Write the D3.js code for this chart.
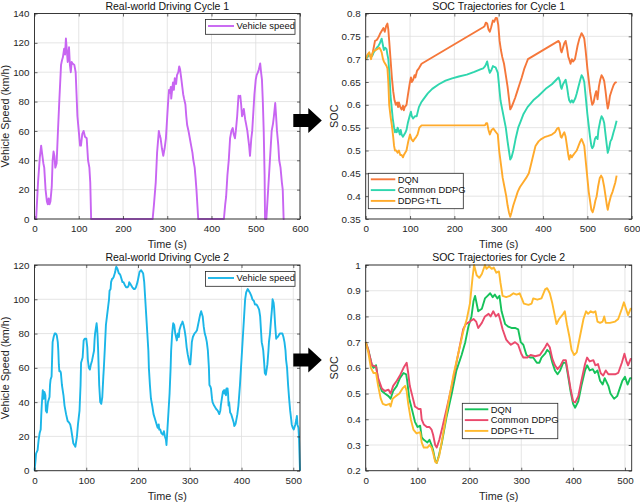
<!DOCTYPE html>
<html>
<head>
<meta charset="utf-8">
<script src="https://cdn.jsdelivr.net/npm/d3@7"></script>
<style>
  body { margin: 0; background: #fff; }
  svg { display: block; font-family: "Liberation Sans", Arial, sans-serif; }
</style>
</head>
<body>
<svg id="chart" width="640" height="503"></svg>
<script>
// ---- data ([time s, value]) ----
const cycle1Speed = [[0,0],[3.7,0],[8,25],[12,42],[15,50],[17,45],[20,38],[22,35],[25,20],[28,12],[30,10],[32,14],[34,10],[36,12],[39,22],[41,40],[43,46],[45,43],[47,35],[50,38],[53,60],[56,80],[60,105],[62,108],[64,110],[67,116],[69,112],[71,123],[73,115],[75,107],[77,113],[78,117],[80,105],[82,100],[84,107],[86,106],[90,105],[93,100],[95,85],[97,70],[100,60],[103,50],[105,50],[108,58],[111,60],[114,56],[118,55],[120,45],[121,40],[124,35],[126,25],[128,0],[267,0],[270,10],[274,25],[277,45],[281,60],[283,57],[285,55],[288,48],[291,43],[294,48],[297,55],[300,70],[302,80],[304,88],[306,86],[308,90],[309,82],[311,88],[313,93],[315,88],[317,96],[320,92],[322,98],[325,100],[327,104],[329,102],[332,95],[334,90],[336,85],[338,82],[341,78],[343,70],[345,64],[348,60],[351,55],[354,50],[357,45],[359,40],[362,35],[364,28],[366,20],[370,0],[428,0],[431,10],[433,15],[436,30],[439,40],[442,55],[445,60],[448,62],[450,58],[453,55],[455,60],[458,70],[461,84],[463,83],[465,84],[467,78],[469,70],[471,72],[473,75],[476,68],[478,65],[481,60],[483,55],[485,50],[487,43],[490,55],[492,60],[495,75],[497,85],[500,95],[502,98],[505,100],[507,102],[510,106],[512,100],[514,95],[516,80],[518,60],[520,30],[521,0],[524,0],[527,15],[530,30],[533,45],[536,60],[539,65],[541,70],[544,79],[546,70],[548,60],[551,50],[553,40],[556,35],[559,25],[561,20],[563,0],[565,0]];

const soc1DQN = [[0,0.70],[4,0.705],[8,0.71],[12,0.705],[15,0.71],[18,0.725],[21,0.74],[25,0.742],[27,0.745],[30,0.75],[32,0.755],[35,0.76],[38,0.765],[40,0.768],[43,0.76],[46,0.772],[49,0.778],[51,0.765],[53,0.74],[56,0.70],[59,0.66],[62,0.63],[65,0.61],[68,0.60],[71,0.605],[73,0.595],[75,0.605],[78,0.595],[81,0.59],[84,0.598],[86,0.588],[88,0.595],[92,0.60],[95,0.62],[99,0.645],[102,0.66],[104,0.65],[107,0.655],[110,0.665],[112,0.66],[116,0.675],[120,0.68],[126,0.69],[265,0.77],[268,0.772],[271,0.78],[274,0.778],[277,0.765],[280,0.76],[283,0.77],[287,0.785],[290,0.782],[293,0.79],[296,0.79],[299,0.775],[302,0.74],[305,0.72],[308,0.705],[312,0.69],[316,0.665],[320,0.64],[323,0.615],[326,0.59],[329,0.595],[331,0.6],[333,0.605],[337,0.615],[342,0.63],[347,0.645],[352,0.66],[358,0.68],[362,0.69],[366,0.70],[435,0.74],[438,0.735],[440,0.72],[442,0.715],[445,0.725],[448,0.735],[451,0.74],[454,0.725],[457,0.705],[459,0.70],[462,0.69],[465,0.70],[468,0.695],[472,0.70],[475,0.715],[478,0.73],[482,0.745],[485,0.752],[487,0.757],[490,0.752],[493,0.745],[496,0.72],[498,0.70],[500,0.68],[503,0.655],[506,0.63],[509,0.61],[511,0.60],[514,0.605],[517,0.62],[520,0.63],[523,0.612],[526,0.64],[529,0.655],[532,0.665],[535,0.66],[538,0.652],[541,0.63],[544,0.605],[546,0.592],[548,0.6],[551,0.62],[555,0.632],[559,0.643],[562,0.648],[566,0.65]];

const soc1DDPG = [[0,0.70],[4,0.705],[8,0.712],[12,0.705],[15,0.708],[18,0.715],[22,0.72],[25,0.725],[28,0.728],[32,0.735],[36,0.745],[39,0.73],[41,0.72],[44,0.725],[47,0.722],[49,0.71],[51,0.70],[54,0.66],[56,0.62],[59,0.59],[61,0.57],[64,0.55],[66,0.54],[68,0.545],[70,0.54],[72,0.55],[74,0.545],[77,0.535],[79,0.545],[81,0.535],[84,0.53],[87,0.535],[90,0.54],[92,0.545],[95,0.56],[99,0.575],[102,0.585],[104,0.575],[107,0.57],[111,0.575],[115,0.575],[120,0.595],[125,0.605],[130,0.612],[140,0.625],[150,0.635],[165,0.645],[180,0.653],[195,0.658],[210,0.662],[228,0.666],[245,0.672],[260,0.678],[265,0.68],[268,0.683],[271,0.688],[274,0.695],[277,0.68],[280,0.67],[283,0.675],[287,0.685],[290,0.683],[293,0.682],[296,0.675],[298,0.67],[301,0.64],[304,0.61],[306,0.60],[310,0.58],[313,0.565],[316,0.55],[320,0.52],[323,0.50],[326,0.48],[329,0.485],[333,0.50],[338,0.525],[344,0.55],[350,0.565],[356,0.58],[365,0.595],[378,0.61],[390,0.62],[406,0.635],[420,0.645],[430,0.655],[435,0.66],[438,0.652],[440,0.64],[442,0.635],[445,0.645],[448,0.65],[451,0.655],[454,0.64],[457,0.62],[459,0.61],[462,0.605],[465,0.61],[468,0.605],[473,0.615],[476,0.625],[480,0.64],[484,0.655],[487,0.665],[490,0.66],[493,0.65],[496,0.62],[500,0.58],[503,0.555],[506,0.53],[509,0.51],[511,0.505],[514,0.51],[517,0.525],[520,0.53],[523,0.525],[525,0.545],[529,0.565],[532,0.575],[535,0.57],[538,0.56],[541,0.535],[544,0.51],[546,0.495],[549,0.505],[552,0.52],[555,0.525],[559,0.54],[562,0.55],[566,0.565]];

const soc1TL = [[0,0.70],[4,0.71],[8,0.715],[12,0.70],[15,0.712],[18,0.718],[22,0.72],[26,0.722],[31,0.725],[34,0.72],[36,0.715],[39,0.70],[41,0.695],[44,0.69],[47,0.685],[49,0.68],[51,0.65],[53,0.60],[56,0.575],[59,0.555],[62,0.53],[64,0.51],[66,0.50],[69,0.50],[72,0.495],[75,0.50],[78,0.49],[81,0.49],[84,0.485],[86,0.49],[89,0.495],[92,0.50],[96,0.52],[100,0.535],[103,0.525],[107,0.52],[110,0.525],[114,0.53],[117,0.535],[121,0.55],[126,0.555],[269,0.555],[272,0.56],[274,0.56],[277,0.545],[280,0.535],[284,0.545],[288,0.548],[290,0.545],[294,0.54],[298,0.535],[301,0.50],[305,0.47],[309,0.44],[313,0.42],[317,0.40],[320,0.38],[323,0.365],[326,0.355],[329,0.365],[333,0.38],[338,0.395],[343,0.41],[348,0.42],[355,0.43],[362,0.44],[368,0.45],[373,0.47],[378,0.49],[383,0.51],[390,0.52],[396,0.525],[405,0.53],[412,0.532],[420,0.535],[427,0.54],[432,0.548],[435,0.55],[438,0.54],[440,0.53],[442,0.528],[445,0.535],[448,0.54],[451,0.53],[454,0.51],[457,0.49],[459,0.48],[462,0.49],[465,0.485],[468,0.49],[472,0.495],[476,0.50],[480,0.51],[484,0.52],[487,0.525],[490,0.518],[493,0.51],[496,0.48],[500,0.44],[503,0.41],[506,0.39],[509,0.37],[512,0.365],[515,0.375],[518,0.39],[521,0.40],[524,0.42],[528,0.44],[531,0.445],[534,0.44],[538,0.42],[541,0.40],[544,0.38],[546,0.37],[549,0.385],[553,0.40],[557,0.41],[560,0.42],[563,0.43],[566,0.445]];

const cycle2Speed = [[0,0],[2,6],[3,10],[6,12],[8,18],[10,22],[12,24],[13,32],[14,38],[16,47],[17,45],[18,42],[19,46],[21,44],[22,35],[24,34],[26,40],[28,42],[29,43],[30,50],[31,53],[33,55],[34,65],[35,75],[37,78],[39,80],[41,80],[43,79],[45,75],[46,70],[47,62],[48,58],[50,58],[51,57],[53,50],[56,44],[58,38],[61,33],[64,29],[67,28],[69,27],[71,24],[72,22],[74,18],[75,16],[77,15],[79,14],[80,16],[82,20],[84,27],[87,35],[89,50],[90,63],[92,65],[93,66],[95,76],[97,77],[100,77],[102,72],[103,65],[105,60],[107,59],[109,62],[111,64],[113,67],[115,70],[116,76],[117,80],[118,82],[120,86],[121,83],[122,78],[123,70],[124,60],[125,50],[127,40],[129,39],[131,43],[133,55],[134,60],[136,72],[138,85],[140,90],[142,95],[144,100],[145,105],[147,106],[148,110],[150,112],[151,112],[153,113],[155,115],[156,116],[157,118],[158,119],[160,118],[161,117],[163,115],[164,115],[166,114],[167,113],[170,110],[172,110],[175,108],[177,107],[180,107],[182,108],[183,110],[185,109],[187,108],[189,107],[192,106],[194,106],[196,107],[199,110],[201,113],[203,116],[206,117],[208,116],[210,115],[212,110],[214,100],[216,90],[218,80],[220,70],[221,60],[223,50],[225,42],[228,37],[230,33],[233,30],[235,28],[237,26],[238,25],[240,27],[241,24],[243,24],[245,22],[248,21],[250,23],[252,20],[254,18],[255,15],[257,25],[259,35],[261,45],[263,60],[264,70],[266,80],[267,83],[268,86],[270,85],[272,80],[275,76],[277,80],[279,78],[280,82],[282,84],[283,85],[285,86],[286,87],[288,85],[290,82],[292,78],[294,72],[296,68],[298,65],[300,62],[301,62],[303,70],[304,75],[306,78],[309,80],[312,81],[314,82],[316,85],[318,88],[320,91],[322,93],[324,91],[325,90],[327,84],[329,80],[331,78],[333,75],[335,70],[337,60],[338,50],[340,49],[341,48],[343,42],[344,40],[347,38],[349,37],[351,36],[354,35],[357,33],[359,35],[360,38],[362,42],[364,46],[366,47],[367,45],[368,47],[370,44],[371,48],[372,46],[373,48],[374,45],[375,38],[376,40],[378,34],[380,33],[383,30],[385,28],[386,26],[388,27],[389,28],[392,33],[394,38],[397,50],[399,60],[401,70],[403,80],[405,90],[407,100],[409,104],[412,106],[414,105],[416,104],[419,102],[421,100],[424,99],[426,97],[429,97],[431,96],[434,94],[436,90],[438,80],[439,75],[441,72],[442,70],[444,62],[445,57],[447,56],[448,58],[450,62],[452,70],[453,75],[455,80],[457,88],[459,95],[460,100],[462,98],[463,95],[465,85],[467,77],[469,78],[470,78],[472,79],[474,80],[477,80],[479,80],[481,78],[483,75],[485,70],[486,65],[488,60],[490,50],[492,42],[494,35],[496,30],[497,27],[499,25],[501,24],[503,26],[504,27],[506,30],[507,32],[508,27],[510,25],[511,20],[512,10],[513,0]];

const soc2DQN = [[0,0.70],[5,0.67],[12,0.61],[15,0.60],[20,0.61],[24,0.55],[31,0.51],[37,0.50],[44,0.49],[48,0.48],[53,0.51],[60,0.53],[66,0.56],[73,0.58],[78,0.575],[80,0.55],[84,0.48],[89,0.44],[95,0.39],[100,0.37],[105,0.375],[108,0.33],[112,0.32],[119,0.31],[123,0.32],[127,0.30],[130,0.28],[134,0.24],[137,0.23],[140,0.25],[147,0.31],[156,0.41],[166,0.50],[175,0.59],[185,0.65],[192,0.70],[198,0.76],[204,0.80],[208,0.86],[211,0.88],[217,0.82],[224,0.83],[230,0.87],[235,0.88],[240,0.89],[245,0.875],[249,0.885],[254,0.87],[258,0.88],[262,0.82],[269,0.77],[275,0.76],[281,0.755],[288,0.755],[294,0.75],[299,0.70],[304,0.69],[310,0.65],[317,0.64],[323,0.64],[330,0.62],[335,0.62],[339,0.64],[346,0.655],[350,0.67],[355,0.66],[360,0.62],[365,0.59],[370,0.575],[375,0.59],[381,0.62],[386,0.62],[391,0.56],[395,0.51],[400,0.46],[404,0.445],[410,0.47],[416,0.53],[423,0.59],[427,0.61],[432,0.59],[438,0.595],[442,0.58],[447,0.59],[452,0.55],[457,0.535],[461,0.56],[468,0.53],[472,0.50],[479,0.48],[485,0.49],[490,0.52],[495,0.55],[500,0.565],[505,0.535],[510,0.56],[513,0.56]];

const soc2DDPG = [[0,0.70],[5,0.67],[12,0.61],[20,0.605],[24,0.56],[31,0.52],[37,0.51],[44,0.515],[48,0.50],[53,0.53],[60,0.55],[66,0.57],[73,0.60],[79,0.62],[82,0.58],[85,0.53],[90,0.49],[95,0.45],[102,0.44],[106,0.44],[108,0.40],[112,0.38],[118,0.37],[123,0.37],[127,0.36],[130,0.34],[134,0.30],[137,0.29],[142,0.32],[148,0.37],[156,0.44],[166,0.53],[175,0.62],[183,0.70],[188,0.75],[193,0.77],[201,0.78],[208,0.79],[213,0.78],[217,0.755],[224,0.775],[230,0.80],[237,0.81],[241,0.80],[246,0.82],[251,0.80],[256,0.81],[259,0.79],[264,0.75],[271,0.71],[275,0.70],[280,0.69],[288,0.70],[294,0.69],[300,0.655],[304,0.64],[312,0.64],[318,0.65],[327,0.645],[336,0.65],[346,0.68],[350,0.695],[355,0.68],[360,0.635],[365,0.61],[370,0.595],[376,0.61],[381,0.63],[386,0.63],[391,0.57],[395,0.52],[400,0.47],[404,0.465],[410,0.49],[416,0.55],[423,0.615],[427,0.64],[432,0.625],[439,0.63],[443,0.61],[448,0.615],[453,0.58],[458,0.57],[463,0.59],[468,0.575],[474,0.575],[481,0.575],[487,0.58],[494,0.62],[499,0.655],[503,0.625],[506,0.61],[511,0.635],[513,0.635]];

const soc2TL = [[0,0.70],[5,0.66],[10,0.60],[15,0.58],[20,0.58],[24,0.53],[29,0.48],[33,0.46],[39,0.455],[46,0.46],[48,0.45],[52,0.48],[58,0.49],[65,0.50],[71,0.52],[76,0.53],[79,0.51],[82,0.46],[87,0.40],[92,0.36],[98,0.345],[105,0.35],[108,0.31],[112,0.29],[119,0.29],[123,0.30],[127,0.29],[130,0.27],[134,0.235],[137,0.23],[142,0.26],[150,0.35],[159,0.46],[169,0.57],[179,0.66],[188,0.74],[195,0.79],[201,0.85],[206,0.95],[209,1.0],[214,0.96],[219,0.95],[224,0.965],[230,1.0],[233,0.985],[238,0.995],[243,0.985],[247,0.99],[252,0.97],[257,0.975],[260,0.93],[264,0.88],[271,0.875],[278,0.88],[285,0.89],[291,0.885],[297,0.89],[301,0.87],[305,0.85],[314,0.845],[320,0.85],[323,0.87],[331,0.865],[339,0.87],[346,0.905],[350,0.91],[355,0.89],[360,0.85],[365,0.80],[368,0.77],[373,0.79],[381,0.81],[384,0.82],[388,0.77],[393,0.72],[397,0.67],[402,0.65],[407,0.66],[413,0.72],[420,0.79],[425,0.82],[429,0.81],[434,0.82],[439,0.815],[443,0.82],[447,0.78],[452,0.775],[457,0.78],[460,0.80],[463,0.775],[471,0.775],[481,0.78],[487,0.79],[494,0.83],[498,0.855],[502,0.83],[506,0.805],[511,0.83],[513,0.83]];

// tick values
const xTicks1 = [0, 100, 200, 300, 400, 500, 600];
const xTicks2 = [0, 100, 200, 300, 400, 500];
const speedTicks1 = [0, 20, 40, 60, 80, 100, 120, 140];
const speedTicks2 = [0, 20, 40, 60, 80, 100, 120];
const socTicks1 = [0.35, 0.4, 0.45, 0.5, 0.55, 0.6, 0.65, 0.7, 0.75, 0.8];
const socTicks2 = [0.2, 0.3, 0.4, 0.5, 0.6, 0.7, 0.8, 0.9, 1];

const methodNames = ["DQN", "Common DDPG", "DDPG+TL"];

const svg = d3.select('#chart');
const axisColor = '#262626';
const gridColor = '#dedede';
const fmt = d3.format('~g');

function drawPanel(p) {
  const x = d3.scaleLinear().domain(p.xDomain).range([p.left, p.right]);
  const y = d3.scaleLinear().domain(p.yDomain).range([p.bottom, p.top]);
  const g = svg.append('g');

  // grid
  g.append('g').selectAll('line').data(p.xTicks).join('line')
    .attr('x1', d => x(d)).attr('x2', d => x(d))
    .attr('y1', p.top).attr('y2', p.bottom)
    .attr('stroke', gridColor).attr('stroke-width', 0.8);
  g.append('g').selectAll('line').data(p.yTicks).join('line')
    .attr('x1', p.left).attr('x2', p.right)
    .attr('y1', d => y(d)).attr('y2', d => y(d))
    .attr('stroke', gridColor).attr('stroke-width', 0.8);

  // lines
  const line = d3.line().x(d => x(d[0])).y(d => y(d[1]));
  p.series.forEach(s => {
    g.append('path').datum(s.data)
      .attr('d', line)
      .attr('fill', 'none')
      .attr('stroke', s.color)
      .attr('stroke-width', 1.9)
      .attr('stroke-linejoin', 'round');
  });

  // axes (ticks inward)
  const styleAxis = sel => {
    sel.select('.domain').remove();
    sel.selectAll('.tick line').attr('stroke', axisColor).attr('stroke-width', 0.7);
    sel.selectAll('.tick text').attr('fill', axisColor).style('font-size', '9.8px')
      .style('font-family', '"Liberation Sans", Arial, sans-serif');
  };
  g.append('g').attr('transform', `translate(0,${p.bottom})`)
    .call(d3.axisBottom(x).tickValues(p.xTicks).tickFormat(fmt).tickSizeInner(-3).tickSizeOuter(0).tickPadding(6))
    .call(styleAxis);
  g.append('g').attr('transform', `translate(0,${p.top})`)
    .call(d3.axisTop(x).tickValues(p.xTicks).tickFormat('').tickSizeInner(-3).tickSizeOuter(0))
    .call(styleAxis);
  g.append('g').attr('transform', `translate(${p.left},0)`)
    .call(d3.axisLeft(y).tickValues(p.yTicks).tickFormat(fmt).tickSizeInner(-3).tickSizeOuter(0).tickPadding(5))
    .call(styleAxis);
  g.append('g').attr('transform', `translate(${p.right},0)`)
    .call(d3.axisRight(y).tickValues(p.yTicks).tickFormat('').tickSizeInner(-3).tickSizeOuter(0))
    .call(styleAxis);

  // frame
  g.append('rect')
    .attr('x', p.left).attr('y', p.top)
    .attr('width', p.right - p.left).attr('height', p.bottom - p.top)
    .attr('fill', 'none').attr('stroke', axisColor).attr('stroke-width', 0.9);

  // labels
  g.append('text')
    .attr('x', (p.left + p.right) / 2).attr('y', p.top - 4)
    .attr('text-anchor', 'middle').attr('fill', '#111')
    .style('font-size', '10.5px').text(p.title);
  g.append('text')
    .attr('x', (p.left + p.right) / 2).attr('y', p.bottom + 29)
    .attr('text-anchor', 'middle').attr('fill', axisColor)
    .style('font-size', '10.8px').text('Time (s)');
  g.append('text')
    .attr('transform', `translate(${p.yLabelX},${(p.top + p.bottom) / 2}) rotate(-90)`)
    .attr('text-anchor', 'middle').attr('fill', axisColor)
    .style('font-size', '10.8px').text(p.yLabel);

  // legend
  const lg = p.legend;
  const rowH = 10.8;
  g.append('rect')
    .attr('x', lg.x).attr('y', lg.y)
    .attr('width', lg.w).attr('height', lg.pad * 2 + rowH * p.series.length - 2)
    .attr('fill', '#fff').attr('stroke', axisColor).attr('stroke-width', 0.8);
  const items = g.append('g').selectAll('g').data(p.series).join('g')
    .attr('transform', (d, i) => `translate(${lg.x},${lg.y + lg.pad + 3.5 + i * rowH})`);
  items.append('line')
    .attr('x1', 2.5).attr('x2', 2.5 + lg.lineLen)
    .attr('stroke', d => d.color).attr('stroke-width', 1.9);
  items.append('text')
    .attr('x', lg.lineLen + 5).attr('dy', '0.35em')
    .attr('fill', '#111').style('font-size', '9.4px')
    .text(d => d.name);
}

drawPanel({
  left: 34.5, right: 300, top: 13.5, bottom: 219,
  xDomain: [0, 600], yDomain: [0, 140], xTicks: xTicks1, yTicks: speedTicks1,
  title: 'Real-world Driving Cycle 1', yLabel: 'Vehicle Speed (km/h)', yLabelX: 8.5,
  series: [{ name: 'Vehicle speed', color: '#c865f2', data: cycle1Speed }],
  legend: { x: 205.5, y: 19.5, w: 89.5, pad: 3, lineLen: 26 }
});

drawPanel({
  left: 365.7, right: 631.7, top: 13.5, bottom: 219,
  xDomain: [0, 600], yDomain: [0.35, 0.8], xTicks: xTicks1, yTicks: socTicks1,
  title: 'SOC Trajectories for Cycle 1', yLabel: 'SOC', yLabelX: 337.5,
  series: [
    { name: methodNames[0], color: '#f5773a', data: soc1DQN },
    { name: methodNames[1], color: '#2fd6ae', data: soc1DDPG },
    { name: methodNames[2], color: '#ffaa2b', data: soc1TL }
  ],
  legend: { x: 368.3, y: 173.3, w: 95, pad: 2.5, lineLen: 24.5 }
});

drawPanel({
  left: 34.5, right: 300, top: 265, bottom: 470.7,
  xDomain: [0, 513], yDomain: [0, 120], xTicks: xTicks2, yTicks: speedTicks2,
  title: 'Real-world Driving Cycle 2', yLabel: 'Vehicle Speed (km/h)', yLabelX: 8.5,
  series: [{ name: 'Vehicle speed', color: '#1bb6e8', data: cycle2Speed }],
  legend: { x: 205.5, y: 271.5, w: 89.5, pad: 3, lineLen: 26 }
});

drawPanel({
  left: 365.7, right: 631.7, top: 265, bottom: 470.7,
  xDomain: [0, 513], yDomain: [0.2, 1], xTicks: xTicks2, yTicks: socTicks2,
  title: 'SOC Trajectories for Cycle 2', yLabel: 'SOC', yLabelX: 337.5,
  series: [
    { name: methodNames[0], color: '#16c25a', data: soc2DQN },
    { name: methodNames[1], color: '#ea4a6c', data: soc2DDPG },
    { name: methodNames[2], color: '#ffb92e', data: soc2TL }
  ],
  legend: { x: 462.3, y: 403.3, w: 95.5, pad: 2.5, lineLen: 23.5 }
});

// black arrows between the panels
const arrowShape = (x0, cy) => {
  const pts = [[x0, cy - 6.5], [x0 + 15, cy - 6.5], [x0 + 15, cy - 12.5], [x0 + 28.5, cy],
               [x0 + 15, cy + 12.5], [x0 + 15, cy + 6.5], [x0, cy + 6.5]];
  return 'M' + pts.map(p => p.join(',')).join('L') + 'Z';
};
svg.append('path').attr('d', arrowShape(293.3, 120.5)).attr('fill', '#000');
svg.append('path').attr('d', arrowShape(293.3, 360)).attr('fill', '#000');
</script>
</body>
</html>
